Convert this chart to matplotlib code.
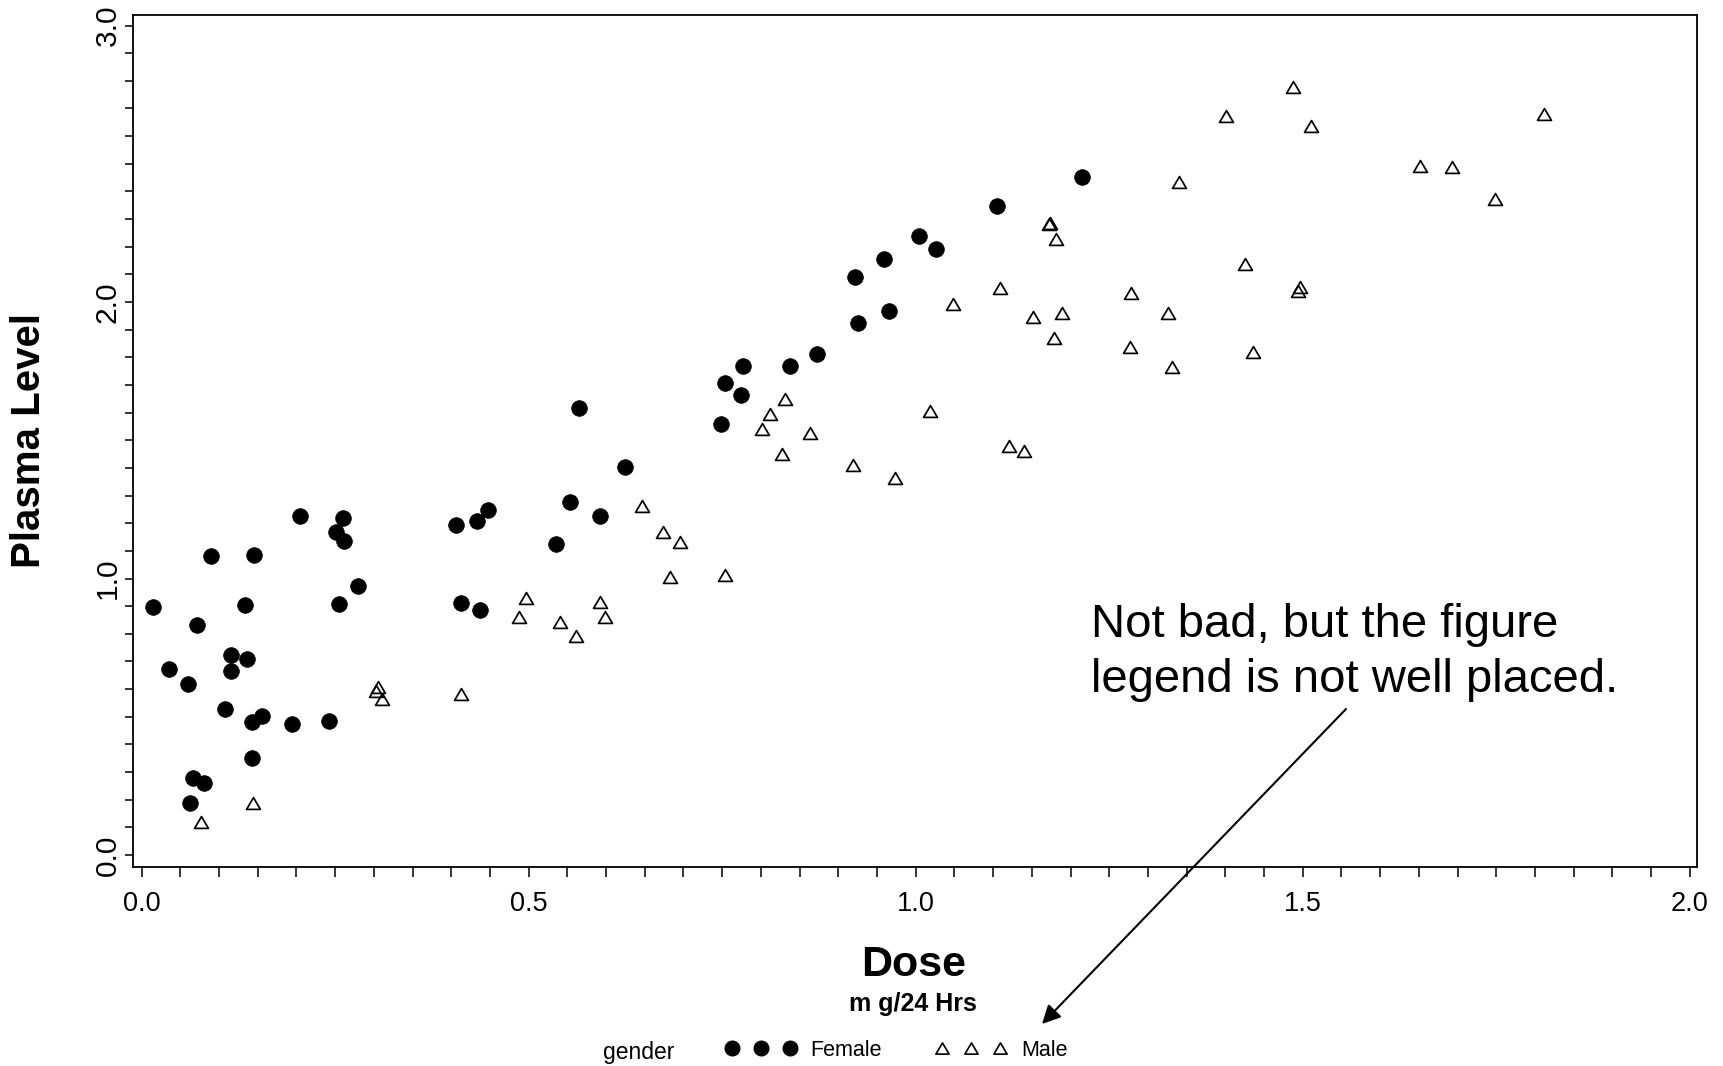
import matplotlib
matplotlib.use("Agg")
import matplotlib.pyplot as plt
from matplotlib.path import Path
from matplotlib.lines import Line2D
from matplotlib.patches import FancyArrowPatch
from matplotlib.ticker import MultipleLocator, FixedLocator

plt.rcParams['font.family'] = ['Liberation Sans', 'DejaVu Sans']

# ---------------- data ----------------
female_dose = [0.015, 0.072, 0.035, 0.060, 0.090, 0.145, 0.133, 0.115, 0.136, 0.116,
               0.108, 0.142, 0.156, 0.143, 0.066, 0.080, 0.062, 0.194, 0.242, 0.204,
               0.260, 0.251, 0.262, 0.279, 0.255, 0.406, 0.433, 0.447, 0.413, 0.437,
               0.565, 0.624, 0.553, 0.592, 0.535, 0.777, 0.838, 0.872, 0.754, 0.774,
               0.749, 1.215, 1.105, 1.004, 1.026, 0.959, 0.921, 0.965, 0.926]
female_plasma = [0.898, 0.833, 0.672, 0.618, 1.081, 1.084, 0.905, 0.722, 0.708, 0.667,
                 0.527, 0.481, 0.503, 0.350, 0.280, 0.262, 0.189, 0.473, 0.485, 1.227,
                 1.219, 1.169, 1.137, 0.974, 0.909, 1.195, 1.208, 1.248, 0.911, 0.885,
                 1.615, 1.404, 1.277, 1.227, 1.125, 1.768, 1.768, 1.812, 1.706, 1.662,
                 1.559, 2.453, 2.348, 2.240, 2.193, 2.157, 2.089, 1.966, 1.923]

male_dose = [0.076, 0.144, 0.305, 0.303, 0.310, 0.413, 0.497, 0.487,
             0.831, 0.812, 0.802, 0.863, 0.827, 0.919, 0.973, 0.647, 0.674, 0.695,
             0.683, 0.754, 0.592, 0.540, 0.599, 0.561,
             1.340, 1.174, 1.172, 1.181, 1.425, 1.109, 1.048, 1.278, 1.151, 1.189,
             1.326, 1.179, 1.277, 1.436, 1.331, 1.019, 1.120, 1.140,
             1.487, 1.511, 1.812, 1.652, 1.693, 1.749, 1.497, 1.494, 1.401]
male_plasma = [0.120, 0.189, 0.608, 0.592, 0.566, 0.581, 0.928, 0.862,
               1.649, 1.596, 1.542, 1.525, 1.449, 1.410, 1.365, 1.263, 1.168, 1.132,
               1.007, 1.014, 0.916, 0.844, 0.862, 0.792,
               2.435, 2.287, 2.281, 2.228, 2.137, 2.052, 1.992, 2.034, 1.947, 1.959,
               1.959, 1.870, 1.837, 1.819, 1.766, 1.606, 1.480, 1.462,
               2.776, 2.635, 2.679, 2.492, 2.489, 2.371, 2.055, 2.041, 2.671]

x_ticks = [0.0, 0.5, 1.0, 1.5, 2.0]
x_ticklabels = ["0.0", "0.5", "1.0", "1.5", "2.0"]
y_ticks = [0.0, 1.0, 2.0, 3.0]
y_ticklabels = ["0.0", "1.0", "2.0", "3.0"]
group_labels = ["Female", "Male"]

# ---------------- figure ----------------
W, H = 1723, 1066
fig = plt.figure(figsize=(W / 100, H / 100), dpi=100)
ax = fig.add_axes([132.7 / W, (H - 866.7) / H, (1697 - 132.7) / W, (866.7 - 15) / H])

tri = Path([(-1, -0.85), (1, -0.85), (0, 0.85), (-1, -0.85)], closed=True)

ax.plot(female_dose, female_plasma, ls='none', marker='o', ms=11.3,
        mfc='black', mec='black', mew=0.5)
ax.plot(male_dose, male_plasma, ls='none', marker=tri, ms=10,
        mfc='none', mec='black', mew=1.25)

ax.set_xlim(-0.0116, 2.0094)
ax.set_ylim(-0.0423, 3.038)

ax.xaxis.set_major_locator(FixedLocator(x_ticks))
ax.set_xticklabels(x_ticklabels)
ax.xaxis.set_minor_locator(MultipleLocator(0.05))
ax.yaxis.set_major_locator(FixedLocator(y_ticks))
ax.set_yticklabels(y_ticklabels, rotation=90, va='center')
ax.yaxis.set_minor_locator(MultipleLocator(0.1))

ax.tick_params(axis='x', which='both', direction='out', length=7.2, width=1.1,
               labelsize=19.5, pad=10)
ax.tick_params(axis='y', which='both', direction='out', length=5.8, width=1.1,
               labelsize=21.5, pad=2)
for s in ax.spines.values():
    s.set_linewidth(1.3)

# axis titles
fig.text(28.5 / W, 1 - 440 / H, "Plasma Level", rotation=90, ha='center', va='center',
         fontsize=29, fontweight='bold')
fig.text(914 / W, 1 - 965 / H, "Dose", ha='center', va='center',
         fontsize=31, fontweight='bold')
fig.text(913 / W, 1 - 1004 / H, "m g/24 Hrs", ha='center', va='center',
         fontsize=18, fontweight='bold')

# legend
fig.text(603 / W, 1 - 1053 / H, "gender", ha='left', va='center', fontsize=16.5)
handles = [
    Line2D([], [], ls='none', marker='o', ms=10.5, mfc='black', mec='black'),
    Line2D([], [], ls='none', marker=tri, ms=9.5, mfc='none', mec='black', mew=1.2),
]
fig.legend(handles, group_labels, loc='center left',
           bbox_to_anchor=(725.5 / W, 1 - 1050 / H), ncol=2, frameon=False,
           numpoints=3, handlelength=3.29, handletextpad=0.66, columnspacing=2.5,
           borderpad=0, borderaxespad=0, fontsize=15.5)

# annotation
fig.text(1091 / W, 1 - 603 / H, "Not bad, but the figure\nlegend is not well placed.",
         ha='left', va='top', fontsize=34, linespacing=1.33)
fig.add_artist(FancyArrowPatch(
    posA=(1346 / W, 1 - 709 / H), posB=(1042 / W, 1 - 1024 / H),
    transform=fig.transFigure, arrowstyle='-|>', mutation_scale=28,
    lw=1.5, color='black', shrinkA=0, shrinkB=0))

fig.savefig("out.png", dpi=100, facecolor='white')
